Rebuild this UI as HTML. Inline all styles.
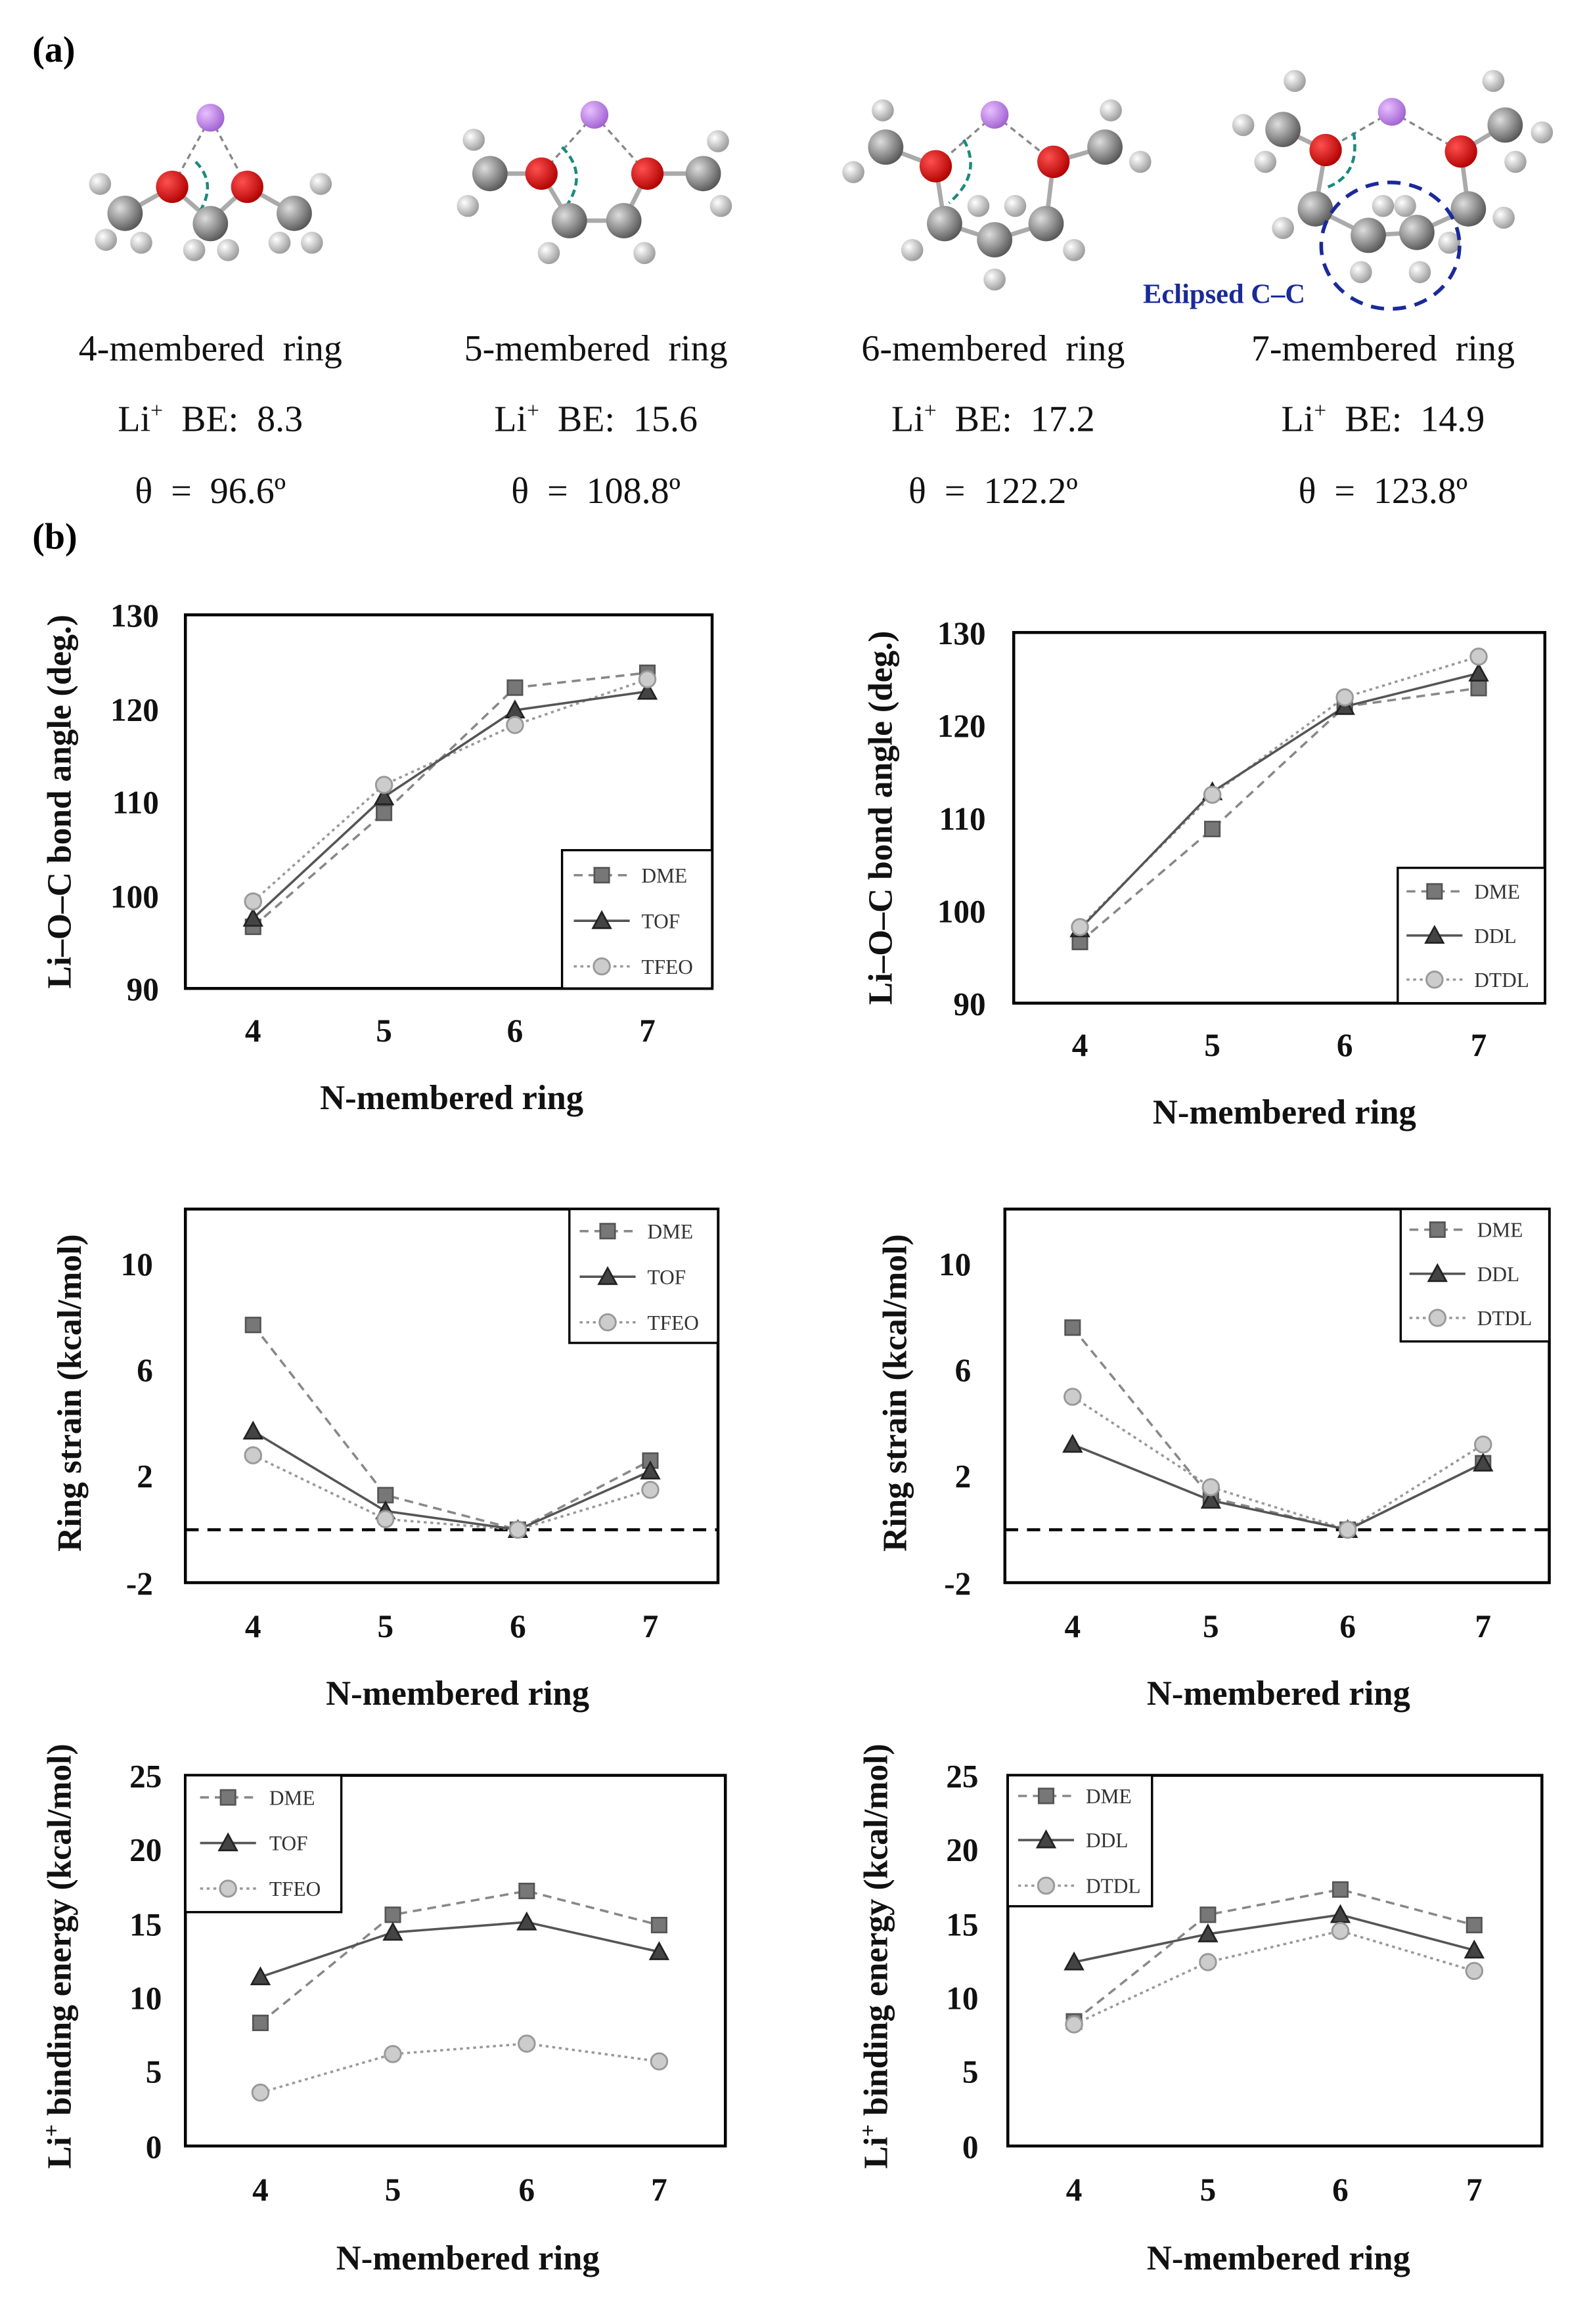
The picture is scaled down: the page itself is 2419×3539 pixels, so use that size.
<!DOCTYPE html>
<html><head><meta charset="utf-8"><style>
html,body{margin:0;padding:0;background:#fff;}
svg{display:block;}
text{font-family:"Liberation Serif",serif;}
.tk{font-size:22px;font-weight:bold;fill:#111;}
.tl{font-size:23.5px;font-weight:bold;fill:#111;}
.yl{font-size:23px;font-weight:bold;fill:#111;}
.lg{font-size:14px;fill:#333;}
.cap{font-size:25px;fill:#111;}
.box{fill:none;stroke:#000;stroke-width:2;}
.dme{fill:none;stroke:#888;stroke-width:1.6;stroke-dasharray:6,4;}
.tof{fill:none;stroke:#555;stroke-width:1.6;}
.tfe{fill:none;stroke:#999;stroke-width:1.6;stroke-dasharray:2,2.5;}
.bond{stroke:#aaa;stroke-width:3;}
.hb{stroke:#888;stroke-width:1.5;stroke-dasharray:4,3;fill:none;}
.arc{stroke:#1a8a80;stroke-width:2;stroke-dasharray:5,3;fill:none;}
</style></head><body>
<svg width="2419" height="3539" viewBox="0 0 1080 1580" xmlns="http://www.w3.org/2000/svg">
<defs>
<radialGradient id="gC" cx="35%" cy="35%" r="70%"><stop offset="0" stop-color="#ddd"/><stop offset="1" stop-color="#555"/></radialGradient>
<radialGradient id="gH" cx="35%" cy="35%" r="70%"><stop offset="0" stop-color="#fff"/><stop offset="1" stop-color="#999"/></radialGradient>
<radialGradient id="gO" cx="35%" cy="35%" r="70%"><stop offset="0" stop-color="#ff5050"/><stop offset="1" stop-color="#b00000"/></radialGradient>
<radialGradient id="gL" cx="35%" cy="35%" r="70%"><stop offset="0" stop-color="#e8c0ff"/><stop offset="1" stop-color="#a060d0"/></radialGradient>
<g id="sq"><rect x="-5" y="-5" width="10" height="10" fill="#777" stroke="#555" stroke-width="1.2"/></g>
<g id="tr"><path d="M0,-6 L6,5 L-6,5 Z" fill="#444" stroke="#222" stroke-width="1.2"/></g>
<g id="ci"><circle r="5.5" fill="#ccc" stroke="#999" stroke-width="1.3"/></g>
<g id="C"><circle r="12" fill="url(#gC)"/></g>
<g id="H"><circle r="7.5" fill="url(#gH)"/></g>
<g id="O"><circle r="11" fill="url(#gO)"/></g>
<g id="L"><circle r="9.5" fill="url(#gL)"/></g>
</defs>

<text x="22" y="42" style="font-size:25px;font-weight:bold">(a)</text>
<text x="22" y="373" style="font-size:25px;font-weight:bold">(b)</text>

<!-- molecule 1 -->
<g>
<line class="hb" x1="143" y1="80" x2="117" y2="127"/><line class="hb" x1="143" y1="80" x2="168" y2="127"/>
<line class="bond" x1="117" y1="127" x2="143" y2="150"/><line class="bond" x1="168" y1="127" x2="143" y2="150"/>
<line class="bond" x1="117" y1="127" x2="85" y2="145"/><line class="bond" x1="168" y1="127" x2="200" y2="145"/>
<path class="arc" d="M133,110 Q148,125 135,145"/>
<use href="#H" x="68" y="125"/><use href="#H" x="72" y="163"/><use href="#H" x="96" y="165"/>
<use href="#H" x="218" y="125"/><use href="#H" x="212" y="165"/><use href="#H" x="190" y="165"/>
<use href="#H" x="132" y="170"/><use href="#H" x="155" y="170"/>
<use href="#C" x="85" y="145"/><use href="#C" x="200" y="145"/><use href="#C" x="143" y="152"/>
<use href="#O" x="117" y="127"/><use href="#O" x="168" y="127"/><use href="#L" x="143" y="80"/>
</g>
<!-- molecule 2 -->
<g>
<line class="hb" x1="404" y1="78" x2="368" y2="118"/><line class="hb" x1="404" y1="78" x2="440" y2="118"/>
<line class="bond" x1="368" y1="118" x2="387" y2="150"/><line class="bond" x1="387" y1="150" x2="424" y2="150"/><line class="bond" x1="424" y1="150" x2="440" y2="118"/>
<line class="bond" x1="368" y1="118" x2="333" y2="118"/><line class="bond" x1="440" y1="118" x2="478" y2="118"/>
<path class="arc" d="M382,100 Q400,118 385,140"/>
<use href="#H" x="322" y="95"/><use href="#H" x="318" y="140"/><use href="#H" x="488" y="96"/><use href="#H" x="490" y="140"/>
<use href="#H" x="373" y="172"/><use href="#H" x="438" y="172"/>
<use href="#C" x="333" y="118"/><use href="#C" x="478" y="118"/><use href="#C" x="387" y="150"/><use href="#C" x="424" y="150"/>
<use href="#O" x="368" y="118"/><use href="#O" x="440" y="118"/><use href="#L" x="404" y="78"/>
</g>
<!-- molecule 3 -->
<g>
<line class="hb" x1="676" y1="78" x2="636" y2="113"/><line class="hb" x1="676" y1="78" x2="716" y2="110"/>
<line class="bond" x1="636" y1="113" x2="642" y2="152"/><line class="bond" x1="642" y1="152" x2="676" y2="163"/><line class="bond" x1="676" y1="163" x2="711" y2="152"/><line class="bond" x1="711" y1="152" x2="716" y2="110"/>
<line class="bond" x1="636" y1="113" x2="602" y2="100"/><line class="bond" x1="716" y1="110" x2="751" y2="100"/>
<path class="arc" d="M655,95 Q668,118 645,138"/>
<use href="#H" x="600" y="75"/><use href="#H" x="580" y="117"/><use href="#H" x="755" y="75"/><use href="#H" x="775" y="110"/>
<use href="#H" x="620" y="170"/><use href="#H" x="730" y="170"/><use href="#H" x="676" y="190"/><use href="#H" x="665" y="140"/><use href="#H" x="690" y="140"/>
<use href="#C" x="602" y="100"/><use href="#C" x="751" y="100"/><use href="#C" x="642" y="152"/><use href="#C" x="676" y="163"/><use href="#C" x="711" y="152"/>
<use href="#O" x="636" y="113"/><use href="#O" x="716" y="110"/><use href="#L" x="676" y="78"/>
</g>
<!-- molecule 4 -->
<g>
<line class="hb" x1="946" y1="76" x2="901" y2="102"/><line class="hb" x1="946" y1="76" x2="993" y2="103"/>
<line class="bond" x1="901" y1="102" x2="894" y2="142"/><line class="bond" x1="894" y1="142" x2="930" y2="160"/><line class="bond" x1="930" y1="160" x2="963" y2="158"/><line class="bond" x1="963" y1="158" x2="998" y2="142"/><line class="bond" x1="998" y1="142" x2="993" y2="103"/>
<line class="bond" x1="901" y1="102" x2="872" y2="88"/><line class="bond" x1="993" y1="103" x2="1023" y2="85"/>
<path class="arc" d="M920,90 Q925,120 900,128"/>
<use href="#H" x="880" y="55"/><use href="#H" x="845" y="85"/><use href="#H" x="860" y="110"/><use href="#H" x="1015" y="55"/><use href="#H" x="1048" y="90"/><use href="#H" x="1030" y="110"/>
<use href="#H" x="872" y="155"/><use href="#H" x="1022" y="148"/><use href="#H" x="940" y="140"/><use href="#H" x="955" y="140"/><use href="#H" x="925" y="185"/><use href="#H" x="965" y="185"/><use href="#H" x="985" y="165"/>
<use href="#C" x="872" y="88"/><use href="#C" x="1023" y="85"/><use href="#C" x="894" y="142"/><use href="#C" x="930" y="160"/><use href="#C" x="963" y="158"/><use href="#C" x="998" y="142"/>
<use href="#O" x="901" y="102"/><use href="#O" x="993" y="103"/><use href="#L" x="946" y="76"/>
<ellipse cx="945" cy="167" rx="47" ry="43" fill="none" stroke="#1a2a9a" stroke-width="2.5" stroke-dasharray="9,6"/>
<text x="832" y="206" text-anchor="middle" style="font-size:19px;font-weight:bold;fill:#1a2a9a">Eclipsed C–C</text>
</g>

<g class="cap" text-anchor="middle">
<text x="143" y="245">4-membered&#160; ring</text><text x="405" y="245">5-membered&#160; ring</text><text x="675" y="245">6-membered&#160; ring</text><text x="940" y="245">7-membered&#160; ring</text>
<text x="143" y="293">Li<tspan dy="-9" style="font-size:15px">+</tspan><tspan dy="9">&#160; BE:&#160; 8.3</tspan></text>
<text x="405" y="293">Li<tspan dy="-9" style="font-size:15px">+</tspan><tspan dy="9">&#160; BE:&#160; 15.6</tspan></text>
<text x="675" y="293">Li<tspan dy="-9" style="font-size:15px">+</tspan><tspan dy="9">&#160; BE:&#160; 17.2</tspan></text>
<text x="940" y="293">Li<tspan dy="-9" style="font-size:15px">+</tspan><tspan dy="9">&#160; BE:&#160; 14.9</tspan></text>
<text x="143" y="342">θ&#160; =&#160; 96.6º</text><text x="405" y="342">θ&#160; =&#160; 108.8º</text><text x="675" y="342">θ&#160; =&#160; 122.2º</text><text x="940" y="342">θ&#160; =&#160; 123.8º</text>
</g>

<!-- Chart 1 -->
<rect class="box" x="126" y="418" width="358" height="254"/>
<g class="tk" text-anchor="end"><text x="108" y="426">130</text><text x="108" y="490">120</text><text x="108" y="553">110</text><text x="108" y="617">100</text><text x="108" y="680">90</text></g>
<g class="tk" text-anchor="middle"><text x="172" y="708">4</text><text x="261" y="708">5</text><text x="350" y="708">6</text><text x="440" y="708">7</text></g>
<text class="tl" x="307" y="754" text-anchor="middle">N-membered ring</text>
<text class="yl" transform="translate(48,545) rotate(-90)" text-anchor="middle">Li–O–C bond angle (deg.)</text>
<polyline class="tfe" points="172,612.9 261,533.6 350,492.9 440,461.8"/>
<polyline class="dme" points="172,630.1 261,552.6 350,467.5 440,457.4"/>
<polyline class="tof" points="172,624.4 261,541.8 350,482.8 440,470.1"/>
<use href="#sq" x="172" y="630.1"/><use href="#sq" x="261" y="552.6"/><use href="#sq" x="350" y="467.5"/><use href="#sq" x="440" y="457.4"/>
<use href="#tr" x="172" y="624.4"/><use href="#tr" x="261" y="541.8"/><use href="#tr" x="350" y="482.8"/><use href="#tr" x="440" y="470.1"/>
<use href="#ci" x="172" y="612.9"/><use href="#ci" x="261" y="533.6"/><use href="#ci" x="350" y="492.9"/><use href="#ci" x="440" y="461.8"/>
<rect x="382" y="578" width="102" height="94" fill="#fff" stroke="#000" stroke-width="1.5"/>
<line class="dme" x1="390" y1="595" x2="428" y2="595"/><use href="#sq" x="409" y="595"/><text class="lg" x="436" y="600">DME</text>
<line class="tof" x1="390" y1="626" x2="428" y2="626"/><use href="#tr" x="409" y="626"/><text class="lg" x="436" y="631">TOF</text>
<line class="tfe" x1="390" y1="657" x2="428" y2="657"/><use href="#ci" x="409" y="657"/><text class="lg" x="436" y="662">TFEO</text>

<!-- Chart 2 -->
<rect class="box" x="689" y="430" width="361" height="252"/>
<g class="tk" text-anchor="end"><text x="670" y="438">130</text><text x="670" y="501">120</text><text x="670" y="564">110</text><text x="670" y="627">100</text><text x="670" y="690">90</text></g>
<g class="tk" text-anchor="middle"><text x="734" y="718">4</text><text x="824" y="718">5</text><text x="914" y="718">6</text><text x="1005" y="718">7</text></g>
<text class="tl" x="873" y="764" text-anchor="middle">N-membered ring</text>
<text class="yl" transform="translate(606,556) rotate(-90)" text-anchor="middle">Li–O–C bond angle (deg.)</text>
<polyline class="tfe" points="734,630.3 824,540.3 914,474.1 1005,446.4"/>
<polyline class="dme" points="734,640.4 824,563.6 914,480.4 1005,467.8"/>
<polyline class="tof" points="734,631.6 824,538.4 914,480.4 1005,457.7"/>
<use href="#sq" x="734" y="640.4"/><use href="#sq" x="824" y="563.6"/><use href="#sq" x="914" y="480.4"/><use href="#sq" x="1005" y="467.8"/>
<use href="#tr" x="734" y="631.6"/><use href="#tr" x="824" y="538.4"/><use href="#tr" x="914" y="480.4"/><use href="#tr" x="1005" y="457.7"/>
<use href="#ci" x="734" y="630.3"/><use href="#ci" x="824" y="540.3"/><use href="#ci" x="914" y="474.1"/><use href="#ci" x="1005" y="446.4"/>
<rect x="950" y="590" width="100" height="92" fill="#fff" stroke="#000" stroke-width="1.5"/>
<line class="dme" x1="956" y1="606" x2="994" y2="606"/><use href="#sq" x="975" y="606"/><text class="lg" x="1002" y="611">DME</text>
<line class="tof" x1="956" y1="636" x2="994" y2="636"/><use href="#tr" x="975" y="636"/><text class="lg" x="1002" y="641">DDL</text>
<line class="tfe" x1="956" y1="666" x2="994" y2="666"/><use href="#ci" x="975" y="666"/><text class="lg" x="1002" y="671">DTDL</text>

<!-- Chart 3 -->
<rect class="box" x="126" y="822" width="362" height="254"/>
<g class="tk" text-anchor="end"><text x="104" y="867">10</text><text x="104" y="939">6</text><text x="104" y="1011">2</text><text x="104" y="1084">-2</text></g>
<g class="tk" text-anchor="middle"><text x="172" y="1113">4</text><text x="262" y="1113">5</text><text x="352" y="1113">6</text><text x="442" y="1113">7</text></g>
<text class="tl" x="311" y="1159" text-anchor="middle">N-membered ring</text>
<text class="yl" transform="translate(55,947) rotate(-90)" text-anchor="middle">Ring strain (kcal/mol)</text>
<line x1="126" y1="1040" x2="488" y2="1040" stroke="#000" stroke-width="2" stroke-dasharray="9,6"/>
<polyline class="tfe" points="172,989.4 262,1032.8 352,1040 442,1012.9"/>
<polyline class="dme" points="172,900.8 262,1016.5 352,1040 442,993"/>
<polyline class="tof" points="172,973.1 262,1027.3 352,1040 442,1000.2"/>
<use href="#sq" x="172" y="900.8"/><use href="#sq" x="262" y="1016.5"/><use href="#sq" x="352" y="1040"/><use href="#sq" x="442" y="993"/>
<use href="#tr" x="172" y="973.1"/><use href="#tr" x="262" y="1027.3"/><use href="#tr" x="352" y="1040"/><use href="#tr" x="442" y="1000.2"/>
<use href="#ci" x="172" y="989.4"/><use href="#ci" x="262" y="1032.8"/><use href="#ci" x="352" y="1040"/><use href="#ci" x="442" y="1012.9"/>
<rect x="387" y="822" width="101" height="91" fill="#fff" stroke="#000" stroke-width="1.5"/>
<line class="dme" x1="394" y1="837" x2="432" y2="837"/><use href="#sq" x="413" y="837"/><text class="lg" x="440" y="842">DME</text>
<line class="tof" x1="394" y1="868" x2="432" y2="868"/><use href="#tr" x="413" y="868"/><text class="lg" x="440" y="873">TOF</text>
<line class="tfe" x1="394" y1="899" x2="432" y2="899"/><use href="#ci" x="413" y="899"/><text class="lg" x="440" y="904">TFEO</text>

<!-- Chart 4 -->
<rect class="box" x="683" y="822" width="370" height="254"/>
<g class="tk" text-anchor="end"><text x="660" y="867">10</text><text x="660" y="939">6</text><text x="660" y="1011">2</text><text x="660" y="1084">-2</text></g>
<g class="tk" text-anchor="middle"><text x="729" y="1113">4</text><text x="823" y="1113">5</text><text x="916" y="1113">6</text><text x="1008" y="1113">7</text></g>
<text class="tl" x="869" y="1159" text-anchor="middle">N-membered ring</text>
<text class="yl" transform="translate(616,947) rotate(-90)" text-anchor="middle">Ring strain (kcal/mol)</text>
<line x1="683" y1="1040" x2="1053" y2="1040" stroke="#000" stroke-width="2" stroke-dasharray="9,6"/>
<polyline class="tfe" points="729,949.6 823,1011.1 916,1040 1008,982.1"/>
<polyline class="dme" points="729,902.6 823,1018.3 916,1040 1008,994.8"/>
<polyline class="tof" points="729,982.1 823,1020.1 916,1040 1008,994.8"/>
<use href="#sq" x="729" y="902.6"/><use href="#sq" x="823" y="1018.3"/><use href="#sq" x="916" y="1040"/><use href="#sq" x="1008" y="994.8"/>
<use href="#tr" x="729" y="982.1"/><use href="#tr" x="823" y="1020.1"/><use href="#tr" x="916" y="1040"/><use href="#tr" x="1008" y="994.8"/>
<use href="#ci" x="729" y="949.6"/><use href="#ci" x="823" y="1011.1"/><use href="#ci" x="916" y="1040"/><use href="#ci" x="1008" y="982.1"/>
<rect x="952" y="822" width="101" height="90" fill="#fff" stroke="#000" stroke-width="1.5"/>
<line class="dme" x1="958" y1="836" x2="996" y2="836"/><use href="#sq" x="977" y="836"/><text class="lg" x="1004" y="841">DME</text>
<line class="tof" x1="958" y1="866" x2="996" y2="866"/><use href="#tr" x="977" y="866"/><text class="lg" x="1004" y="871">DDL</text>
<line class="tfe" x1="958" y1="896" x2="996" y2="896"/><use href="#ci" x="977" y="896"/><text class="lg" x="1004" y="901">DTDL</text>

<!-- Chart 5 -->
<rect class="box" x="126" y="1207" width="367" height="252"/>
<g class="tk" text-anchor="end"><text x="110" y="1215">25</text><text x="110" y="1265">20</text><text x="110" y="1316">15</text><text x="110" y="1366">10</text><text x="110" y="1416">5</text><text x="110" y="1467">0</text></g>
<g class="tk" text-anchor="middle"><text x="177" y="1496">4</text><text x="267" y="1496">5</text><text x="358" y="1496">6</text><text x="448" y="1496">7</text></g>
<text class="tl" x="318" y="1543" text-anchor="middle">N-membered ring</text>
<text class="yl" transform="translate(48,1330) rotate(-90)" text-anchor="middle">Li<tspan dy="-8" style="font-size:15px">+</tspan><tspan dy="8"> binding energy (kcal/mol)</tspan></text>
<polyline class="tfe" points="177,1422.7 267,1396.5 358,1389.4 448,1401.5"/>
<polyline class="dme" points="177,1375.3 267,1301.8 358,1285.6 448,1308.8"/>
<polyline class="tof" points="177,1344.1 267,1313.8 358,1306.8 448,1327"/>
<use href="#sq" x="177" y="1375.3"/><use href="#sq" x="267" y="1301.8"/><use href="#sq" x="358" y="1285.6"/><use href="#sq" x="448" y="1308.8"/>
<use href="#tr" x="177" y="1344.1"/><use href="#tr" x="267" y="1313.8"/><use href="#tr" x="358" y="1306.8"/><use href="#tr" x="448" y="1327"/>
<use href="#ci" x="177" y="1422.7"/><use href="#ci" x="267" y="1396.5"/><use href="#ci" x="358" y="1389.4"/><use href="#ci" x="448" y="1401.5"/>
<rect x="126" y="1207" width="106" height="93" fill="#fff" stroke="#000" stroke-width="1.5"/>
<line class="dme" x1="136" y1="1222" x2="174" y2="1222"/><use href="#sq" x="155" y="1222"/><text class="lg" x="183" y="1227">DME</text>
<line class="tof" x1="136" y1="1253" x2="174" y2="1253"/><use href="#tr" x="155" y="1253"/><text class="lg" x="183" y="1258">TOF</text>
<line class="tfe" x1="136" y1="1284" x2="174" y2="1284"/><use href="#ci" x="155" y="1284"/><text class="lg" x="183" y="1289">TFEO</text>

<!-- Chart 6 -->
<rect class="box" x="685" y="1207" width="363" height="252"/>
<g class="tk" text-anchor="end"><text x="665" y="1215">25</text><text x="665" y="1265">20</text><text x="665" y="1316">15</text><text x="665" y="1366">10</text><text x="665" y="1416">5</text><text x="665" y="1467">0</text></g>
<g class="tk" text-anchor="middle"><text x="730" y="1496">4</text><text x="821" y="1496">5</text><text x="911" y="1496">6</text><text x="1002" y="1496">7</text></g>
<text class="tl" x="869" y="1543" text-anchor="middle">N-membered ring</text>
<text class="yl" transform="translate(603,1330) rotate(-90)" text-anchor="middle">Li<tspan dy="-8" style="font-size:15px">+</tspan><tspan dy="8"> binding energy (kcal/mol)</tspan></text>
<polyline class="tfe" points="730,1376.3 821,1334 911,1312.8 1002,1340"/>
<polyline class="dme" points="730,1374.3 821,1301.8 911,1284.6 1002,1308.8"/>
<polyline class="tof" points="730,1334 821,1314.9 911,1301.8 1002,1325.9"/>
<use href="#sq" x="730" y="1374.3"/><use href="#sq" x="821" y="1301.8"/><use href="#sq" x="911" y="1284.6"/><use href="#sq" x="1002" y="1308.8"/>
<use href="#tr" x="730" y="1334"/><use href="#tr" x="821" y="1314.9"/><use href="#tr" x="911" y="1301.8"/><use href="#tr" x="1002" y="1325.9"/>
<use href="#ci" x="730" y="1376.3"/><use href="#ci" x="821" y="1334"/><use href="#ci" x="911" y="1312.8"/><use href="#ci" x="1002" y="1340"/>
<rect x="685" y="1207" width="98" height="89" fill="#fff" stroke="#000" stroke-width="1.5"/>
<line class="dme" x1="692" y1="1221" x2="730" y2="1221"/><use href="#sq" x="711" y="1221"/><text class="lg" x="738" y="1226">DME</text>
<line class="tof" x1="692" y1="1251" x2="730" y2="1251"/><use href="#tr" x="711" y="1251"/><text class="lg" x="738" y="1256">DDL</text>
<line class="tfe" x1="692" y1="1282" x2="730" y2="1282"/><use href="#ci" x="711" y="1282"/><text class="lg" x="738" y="1287">DTDL</text>
</svg>
</body></html>
